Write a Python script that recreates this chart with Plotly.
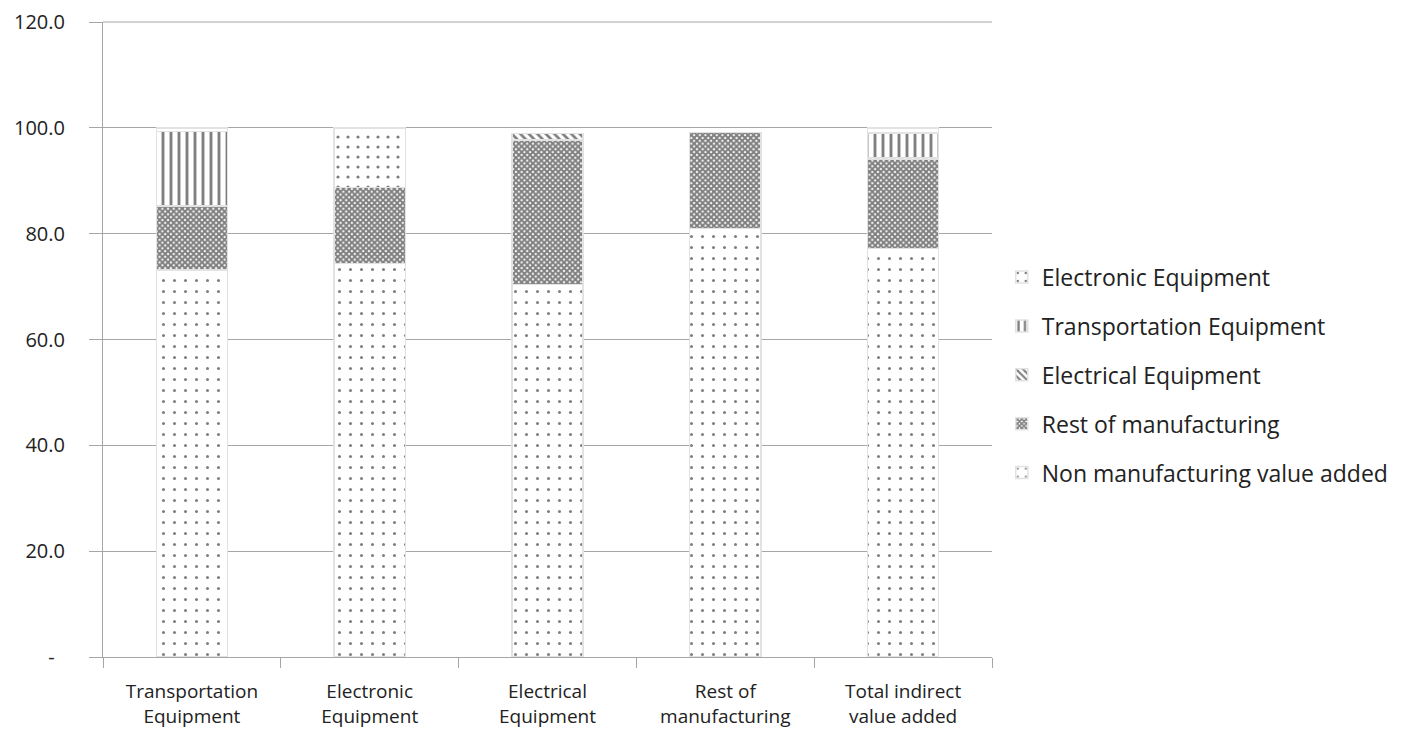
import plotly.graph_objects as go

categories = ["Transportation<br>Equipment", "Electronic<br>Equipment", "Electrical<br>Equipment",
              "Rest of<br>manufacturing", "Total indirect<br>value added"]
non_manufacturing = [73.1, 74.4, 70.4, 81.0, 77.2]
rest_of_manufacturing = [12.0, 14.3, 27.3, 18.1, 16.8]
electrical_equipment = [0.1, 0.0, 1.2, 0.0, 0.3]
transportation_equipment = [14.1, 0.0, 0.0, 0.0, 4.7]
electronic_equipment = [0.7, 11.3, 0.0, 0.0, 1.0]

tick_vals = [0, 20, 40, 60, 80, 100, 120]
tick_text = ["-  ", "20.0", "40.0", "60.0", "80.0", "100.0", "120.0"]

FONT = "Open Sans, sans-serif"

series = [
    ("Non manufacturing value added", non_manufacturing, dict(shape=".", size=11, solidity=0.06), 5),
    ("Rest of manufacturing", rest_of_manufacturing, dict(shape="x", size=4, solidity=0.75), 4),
    ("Electrical Equipment", electrical_equipment, dict(shape="\\", size=6, solidity=0.45), 3),
    ("Transportation Equipment", transportation_equipment, dict(shape="|", size=8, solidity=0.36), 2),
    ("Electronic Equipment", electronic_equipment, dict(shape=".", size=10, solidity=0.08), 1),
]

fig = go.Figure()
for i, (name, vals, pat, rank) in enumerate(series):
    fig.add_trace(go.Bar(
        x=categories, y=vals, name=name, legendgroup=f"g{i}", legendrank=rank,
        marker=dict(color="white",
                    pattern=dict(fgcolor="black", bgcolor="white", fillmode="overlay", **pat),
                    line=dict(color="#e2e2e2", width=1.5)),
        width=0.4,
    ))

fig.update_layout(
    barmode="stack",
    width=1398, height=726,
    paper_bgcolor="white", plot_bgcolor="white",
    margin=dict(l=95, r=414, t=14, b=77, autoexpand=False),
    font=dict(family=FONT, size=20, color="#222"),
    legend=dict(x=1.011, y=0.444, xanchor="left", yanchor="middle",
                traceorder="grouped", tracegroupgap=16,
                font=dict(size=23), itemwidth=30),
    showlegend=True,
    shapes=[dict(type="line", xref="paper", yref="paper", x0=0, x1=1, y0=1, y1=1,
                 line=dict(color="#a6a6a6", width=1), layer="below")],
)
fig.update_yaxes(range=[0, 120], tickvals=tick_vals, ticktext=tick_text,
                 showgrid=True, gridcolor="#a6a6a6", gridwidth=1,
                 showline=True, linecolor="#a6a6a6", linewidth=1,
                 ticks="outside", ticklen=13, tickcolor="#a6a6a6",
                 ticklabelstandoff=20, ticklabeloverflow="allow", automargin=False,
                 zeroline=False, tickfont=dict(size=20))
fig.update_xaxes(showline=True, linecolor="#a6a6a6", linewidth=1,
                 ticks="outside", ticklen=10, tickcolor="#a6a6a6",
                 ticklabelstandoff=17, tickangle=0, automargin=False,
                 tickson="boundaries",
                 tickfont=dict(size=19))

fig.write_html("out.html")
